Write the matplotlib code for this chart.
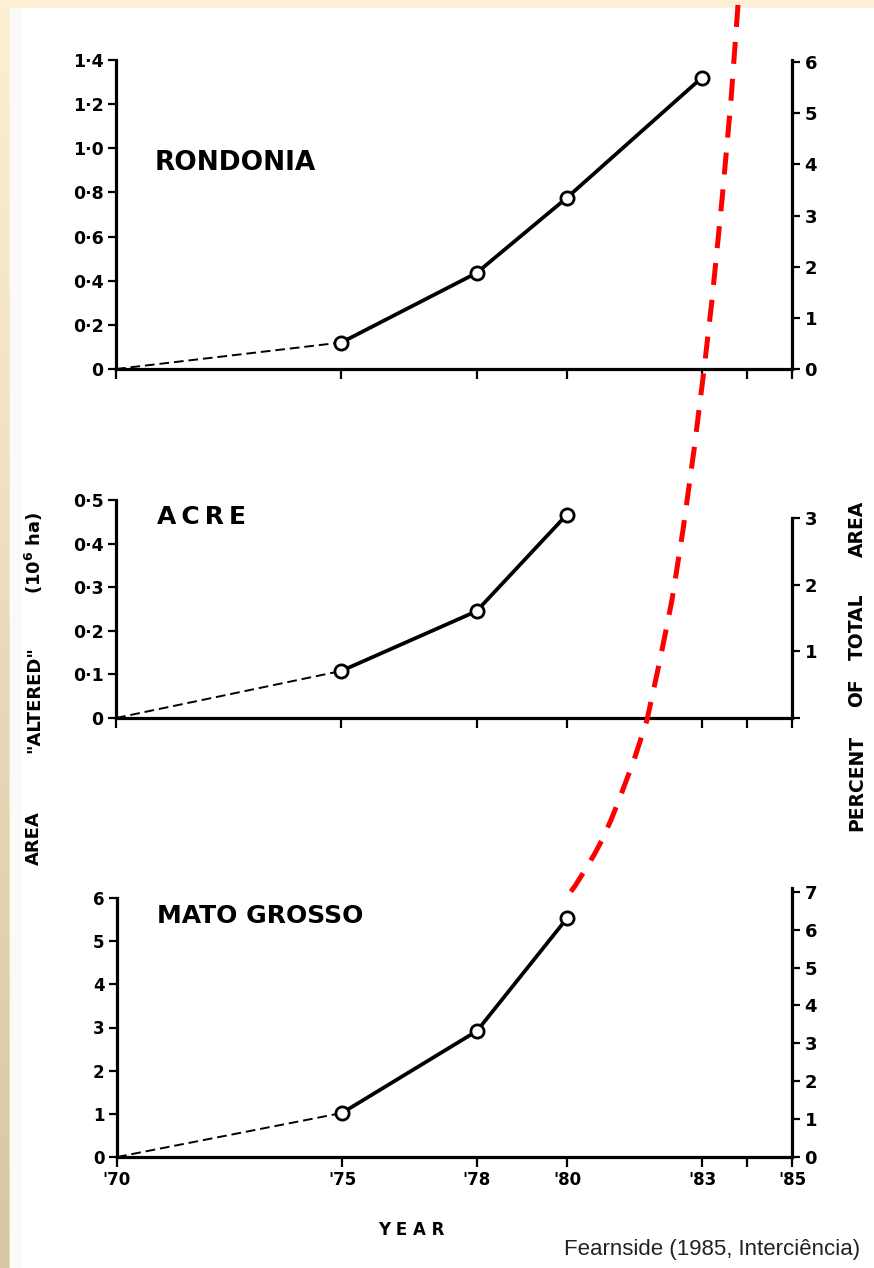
import numpy as np
import matplotlib
matplotlib.use("Agg")
import matplotlib.pyplot as plt
from matplotlib.lines import Line2D
from matplotlib.patches import Rectangle
from matplotlib.transforms import Affine2D

plt.rcParams["font.family"] = ["DejaVu Sans"]
plt.rcParams["mathtext.fontset"] = "dejavusans"
plt.rcParams["mathtext.default"] = "bf"

# data (area in 10^6 ha)
years_rondonia = [70, 75, 78, 80, 83]
area_rondonia = [0, 0.12, 0.435, 0.775, 1.32]
years_acre = [70, 75, 78, 80]
area_acre = [0, 0.108, 0.245, 0.466]
years_mato = [70, 75, 78, 80]
area_mato = [0, 1.02, 2.92, 5.53]

xticks = [70, 75, 78, 80, 83, 84, 85]
xtick_labels = ["'70", "'75", "'78", "'80", "'83", "", "'85"]

# red dashed trend curve drawn over the figure (pixel coords of the image)
red_x = [738, 731, 722, 712, 704, 694, 683, 672, 660, 647, 634, 619, 611, 602, 594, 585, 575, 564]
red_y = [5, 100, 200, 300, 370, 450, 530, 600, 660, 720, 760, 800, 820, 840, 855, 870, 886, 901]

W, H = 874, 1268
fig = plt.figure(figsize=(W / 100, H / 100), dpi=100)
fig.patch.set_facecolor("#fcefd4")

# background: white sheet with a tan strip on the left
bg = fig.add_axes([0, 0, 1, 1], zorder=-5)
bg.set_xlim(0, W)
bg.set_ylim(H, 0)
bg.axis("off")
grad = np.linspace(0, 1, 200).reshape(-1, 1)
cmap = matplotlib.colors.LinearSegmentedColormap.from_list("strip", ["#fdefd3", "#d6c8a2"])
bg.imshow(grad, cmap=cmap, extent=[0, 10, H, 0], aspect="auto")
bg.add_patch(Rectangle((10, 8), W - 10, H - 8, color="white"))
bg.add_patch(Rectangle((10, 8), 10, H - 8, color="#fbfaf6"))


def box(px_left, px_right, px_bottom, px_top):
    return [px_left / W, 1 - px_bottom / H, (px_right - px_left) / W, (px_bottom - px_top) / H]


def style(ax, ax2):
    for a in (ax, ax2):
        a.spines["top"].set_visible(False)
        a.tick_params(width=1.6, length=6, labelsize=12.5, pad=3)
        a.set_facecolor("none")
    ax2.tick_params(labelsize=13)
    ax.spines["right"].set_visible(False)
    ax2.spines["left"].set_visible(False)
    ax2.spines["bottom"].set_visible(False)
    for s in ("left", "bottom"):
        ax.spines[s].set_linewidth(2.3)
    ax2.spines["right"].set_linewidth(2.3)
    ax.set_xlim(70, 85)
    ax.set_xticks(xticks)
    ax.tick_params(axis="x", length=7, width=1.6, labelsize=12)
    for lab in ax.get_yticklabels() + ax2.get_yticklabels() + ax.get_xticklabels():
        lab.set_fontweight("bold")


def plot_series(ax, xs, ys):
    ax.plot(xs[:2], ys[:2], color="black", lw=1.4, dashes=(5, 2.5), zorder=3)
    ax.plot(xs[1:], ys[1:], color="black", lw=2.7, zorder=3,
            marker="o", ms=9.5, mfc="white", mec="black", mew=2.0, clip_on=False)


def dot(v, n):
    return "0" if v == 0 else f"{v:.{n}f}".replace(".", "\u00b7")


# Rondonia
ax1 = fig.add_axes(box(116, 792, 369, 60))
ax1r = ax1.twinx()
plot_series(ax1, years_rondonia, area_rondonia)
ax1.set_ylim(0, 1.4)
yt = [0, 0.2, 0.4, 0.6, 0.8, 1.0, 1.2, 1.4]
ax1.set_yticks(yt)
ax1.set_yticklabels([dot(v, 1) for v in yt])
ax1r.set_ylim(0, 6.04)
ax1r.set_yticks(range(7))
ax1.set_xticklabels([])
style(ax1, ax1r)
ax1.text(155 / W, 1 - 163 / H, "RONDONIA", transform=fig.transFigure,
         fontsize=19, fontweight="bold", va="center", ha="left")

# Acre
ax2 = fig.add_axes(box(116, 792, 718, 500))
ax2r = ax2.twinx()
plot_series(ax2, years_acre, area_acre)
ax2.set_ylim(0, 0.5)
yt = [0, 0.1, 0.2, 0.3, 0.4, 0.5]
ax2.set_yticks(yt)
ax2.set_yticklabels([dot(v, 1) for v in yt])
ax2r.set_ylim(0, 3.27)
ax2r.set_yticks([0, 1, 2, 3])
ax2r.set_yticklabels(["", "1", "2", "3"])
ax2r.spines["right"].set_bounds(0, 3)
ax2.set_xticklabels([])
style(ax2, ax2r)
ax2.text(157 / W, 1 - 517 / H, "A\u2009C\u2009R\u2009E", transform=fig.transFigure,
         fontsize=18, fontweight="bold", va="center", ha="left")

# Mato Grosso
ax3 = fig.add_axes(box(117, 792, 1157, 888))
ax3r = ax3.twinx()
plot_series(ax3, years_mato, area_mato)
ax3.set_ylim(0, 6 * 269 / 259)
ax3.set_yticks(range(7))
ax3.spines["left"].set_bounds(0, 6)
ax3r.set_ylim(0, 7.1)
ax3r.set_yticks(range(8))
ax3.set_xticklabels(xtick_labels)
style(ax3, ax3r)
ax3.tick_params(axis="y", labelsize=12)
ax3.text(157 / W, 1 - 916 / H, "MATO GROSSO", transform=fig.transFigure,
         fontsize=18, fontweight="bold", va="center", ha="left")

fig.text(411 / W, 1 - 1230 / H, "Y E A R", fontsize=12, fontweight="bold",
         ha="center", va="center")

# rotated axis titles, word by word as spaced in the original
for word, py in [("AREA", 838), ('"ALTERED"', 700), ("(10$^{6}$ ha)", 553)]:
    fig.text(34 / W, 1 - py / H, word, fontsize=13, fontweight="bold",
             rotation=90, ha="center", va="center")
for word, py in [("PERCENT", 783), ("OF", 693), ("TOTAL", 627), ("AREA", 529)]:
    fig.text(857 / W, 1 - py / H, word, fontsize=13.5, fontweight="bold",
             rotation=90, ha="center", va="center")

fig.text(860 / W, 1 - 1250 / H, "Fearnside (1985, Interciência)", fontsize=16,
         family="Liberation Sans", ha="right", va="center", color="#222222")

# red dashed curve, given in image pixels
pix = Affine2D().scale(1 / W, -1 / H).translate(0, 1) + fig.transFigure
fig.add_artist(Line2D(red_x, red_y, transform=pix, color="#ff0000", lw=3.6,
                      dashes=(4.4, 3), zorder=10))

fig.savefig("out.png", dpi=100, facecolor=fig.get_facecolor())
